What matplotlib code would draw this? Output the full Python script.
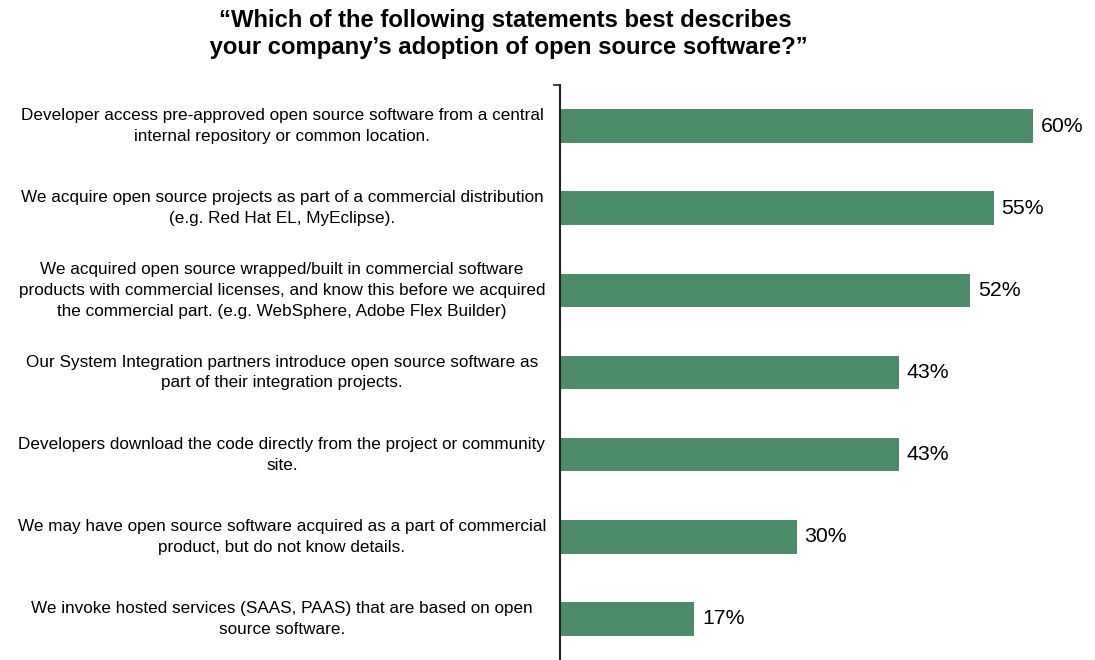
import matplotlib
matplotlib.use("Agg")
import matplotlib.pyplot as plt
import matplotlib.transforms as mtransforms

plt.rcParams["font.family"] = ["Liberation Sans", "DejaVu Sans"]

title = "\u201cWhich of the following statements best describes\n your company\u2019s adoption of open source software?\u201d"

labels = [
    "Developer access pre-approved open source software from a central\ninternal repository or common location.",
    "We acquire open source projects as part of a commercial distribution\n(e.g. Red Hat EL, MyEclipse).",
    "We acquired open source wrapped/built in commercial software\nproducts with commercial licenses, and know this before we acquired\nthe commercial part. (e.g. WebSphere, Adobe Flex Builder)",
    "Our System Integration partners introduce open source software as\npart of their integration projects.",
    "Developers download the code directly from the project or community\nsite.",
    "We may have open source software acquired as a part of commercial\nproduct, but do not know details.",
    "We invoke hosted services (SAAS, PAAS) that are based on open\nsource software.",
]
values = [60, 55, 52, 43, 43, 30, 17]

bar_color = "#4B8D69"

fig = plt.figure(figsize=(10.95, 6.6), dpi=100)
W, H = 1095, 660
ax_left, ax_right, ax_top = 560, 1090, 85
ax = fig.add_axes([ax_left / W, 0, (ax_right - ax_left) / W, 1 - ax_top / H])

px_per_pct = (1033 - 560) / 60.0
ax.set_xlim(0, (ax_right - ax_left) / px_per_pct)
ax.set_ylim(len(values) - 0.5, -0.5)

y = list(range(len(values)))
ax.barh(y, values, height=0.41, color=bar_color)

for yi, v in zip(y, values):
    ax.text(v + 1.0, yi, f"{v}%", va="center", ha="left", fontsize=15.3, color="black")

# category labels centred in the left part of the figure
trans = mtransforms.blended_transform_factory(fig.transFigure, ax.transData)
for yi, lab in zip(y, labels):
    ax.text(282 / W, yi, lab, transform=trans, ha="center", va="center",
            fontsize=12.3, linespacing=1.48)

for s in ["top", "right", "bottom"]:
    ax.spines[s].set_visible(False)
ax.spines["left"].set_linewidth(1.5)
ax.spines["left"].set_color("#222222")
ax.set_xticks([])
ax.set_yticks([-0.5])
ax.set_yticklabels([""])
ax.tick_params(axis="y", length=5, width=1.2, color="#222222")

fig.text(505 / W, 1 - 34 / H, title, ha="center", va="center", fontsize=17.2,
         fontweight="bold", linespacing=1.2)

fig.savefig("out.png", dpi=100)
